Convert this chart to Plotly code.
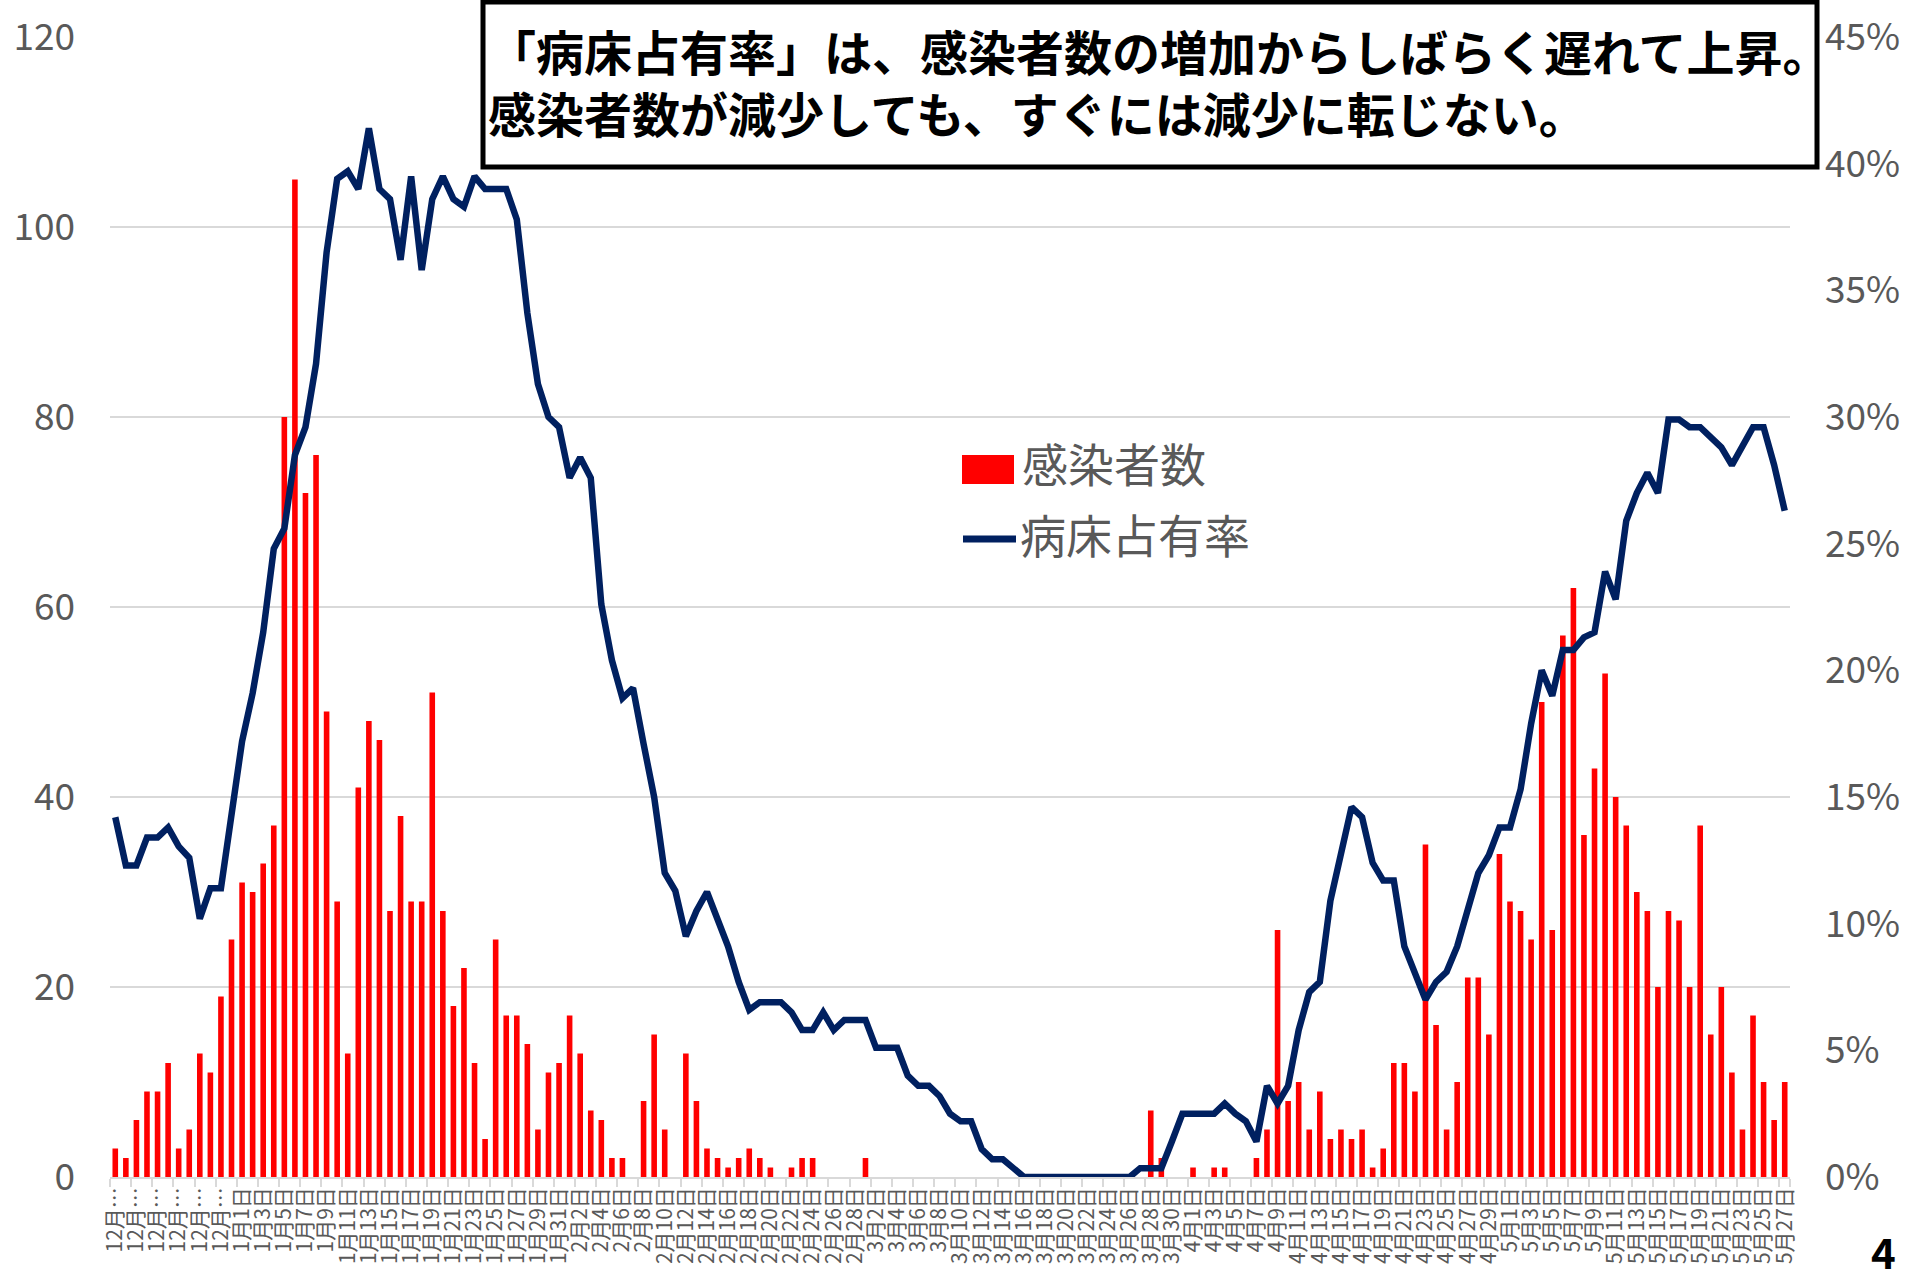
import pandas as pd
import plotly.graph_objects as go

# ---- data -------------------------------------------------------------
dates = pd.date_range("2020-12-20", "2021-05-27", freq="D")
categories = [f"{d.month}月{d.day}日" for d in dates]
tick_vals = categories[::2]
tick_text = [("12月…" if c.startswith("12月") else c) for c in tick_vals]

# 感染者数 (daily new cases)
infected = [
    3, 2, 6, 9, 9, 12, 3, 5, 13, 11, 19, 25,                         # Dec 20-31
    31, 30, 33, 37, 80, 105, 72, 76, 49, 29, 13, 41, 48, 46, 28, 38,  # Jan 1-16
    29, 29, 51, 28, 18, 22, 12, 4, 25, 17, 17, 14, 5, 11, 12,         # Jan 17-31
    17, 13, 7, 6, 2, 2, 0, 8, 15, 5, 0, 13, 8, 3, 2, 1,               # Feb 1-16
    2, 3, 2, 1, 0, 1, 2, 2, 0, 0, 0, 0,                               # Feb 17-28
    2, 0, 0, 0, 0, 0, 0, 0, 0, 0, 0, 0, 0, 0, 0, 0,                   # Mar 1-16
    0, 0, 0, 0, 0, 0, 0, 0, 0, 0, 0, 7, 2, 0, 0,                      # Mar 17-31
    1, 0, 1, 1, 0, 0, 2, 5, 26, 8, 10, 5, 9, 4, 5,                    # Apr 1-15
    4, 5, 1, 3, 12, 12, 9, 35, 16, 5, 10, 21, 21, 15, 34,             # Apr 16-30
    29, 28, 25, 50, 26, 57, 62, 36, 43, 53, 40, 37, 30, 28,           # May 1-14
    20, 28, 27, 20, 37, 15, 20, 11, 5, 17, 10, 6, 10,                 # May 15-27
]

# 病床占有率 (%)
bed_rate = [
    14.2, 12.3, 12.3, 13.4, 13.4, 13.8, 13.05, 12.6, 10.2, 11.4, 11.4, 14.3,
    17.2, 19.1, 21.5, 24.8, 25.6, 28.5, 29.6, 32.1, 36.5, 39.4, 39.7, 39.0,
    41.4, 39.0, 38.6, 36.2, 39.5, 35.8, 38.6, 39.5, 38.6, 38.3, 39.5, 39.0,
    39.0, 39.0, 37.8, 34.1, 31.3, 30.0, 29.6,
    27.6, 28.4, 27.6, 22.6, 20.4, 18.9, 19.3, 17.1, 15.0, 12.0, 11.3, 9.5,
    10.5, 11.25, 10.2, 9.1, 7.7, 6.6, 6.9, 6.9, 6.9, 6.5, 5.8, 5.8, 6.5, 5.8,
    6.2, 6.2,
    6.2, 5.1, 5.1, 5.1, 4.0, 3.6, 3.6, 3.2, 2.5, 2.2, 2.2, 1.1, 0.7, 0.7,
    0.35, 0, 0, 0, 0, 0, 0, 0, 0, 0, 0, 0, 0.35, 0.35, 0.35, 1.4, 2.5,
    2.5, 2.5, 2.5, 2.9, 2.5, 2.2, 1.4, 3.6, 2.9, 3.6, 5.8, 7.3, 7.7, 10.9,
    12.8, 14.6, 14.2, 12.4, 11.7, 11.7, 9.1, 8.1, 7.0, 7.7, 8.1, 9.1, 10.6,
    12.0, 12.7, 13.8,
    13.8, 15.3, 17.9, 20.0, 19.0, 20.8, 20.8, 21.3, 21.5, 23.9, 22.8, 25.9,
    27.0, 27.8, 27.0, 29.9, 29.9, 29.6, 29.6, 29.2, 28.8, 28.1, 28.8, 29.6,
    29.6, 28.1, 26.3,
]

series_names = ["感染者数", "病床占有率"]
title_lines = ["「病床占有率」は、感染者数の増加からしばらく遅れて上昇。",
               "感染者数が減少しても、すぐには減少に転じない。"]
page_no = "4"

# ---- figure -----------------------------------------------------------
FONT = "Noto Sans CJK JP"
GRAY = "#595959"
GRID = "#d9d9d9"
RED = "#FF0000"
NAVY = "#002060"

W, H = 1916, 1281
L, R, T, B = 110, 126, 37, 104
PW, PH = W - L - R, H - T - B


def px(x):  # page pixel -> paper x
    return (x - L) / PW


def py(y):  # page pixel -> paper y
    return (H - B - y) / PH


fig = go.Figure()
fig.add_trace(go.Bar(
    x=categories, y=infected, name=series_names[0],
    marker=dict(color=RED, line=dict(width=0)), showlegend=False,
))
fig.add_trace(go.Scatter(
    x=categories, y=[v / 100 for v in bed_rate], name=series_names[1],
    mode="lines", line=dict(color=NAVY, width=6.5), yaxis="y2", showlegend=False,
))

fig.update_layout(
    width=W, height=H,
    margin=dict(l=L, r=R, t=T, b=B, pad=0),
    paper_bgcolor="white", plot_bgcolor="white",
    font=dict(family=FONT, color=GRAY),
    bargap=0.47,
    xaxis=dict(
        type="category", tickmode="array", tickvals=tick_vals, ticktext=tick_text,
        tickangle=-90, tickson="boundaries", ticks="outside", ticklen=8,
        tickcolor=GRID, tickwidth=1.5, showline=True, linecolor=GRID, linewidth=1.5,
        showgrid=False, tickfont=dict(size=21, color=GRAY, family=FONT),
        automargin=False,
    ),
    yaxis=dict(
        range=[0, 120], tick0=0, dtick=20, showgrid=True, gridcolor=GRID,
        gridwidth=1.5, zeroline=False, showline=False,
        tickfont=dict(size=37, color=GRAY, family=FONT),
        ticklabelstandoff=34, automargin=False,
    ),
    yaxis2=dict(
        overlaying="y", side="right", range=[0, 0.45], tick0=0, dtick=0.05,
        tickformat=".0%", showgrid=False, zeroline=False, showline=False,
        tickfont=dict(size=37, color=GRAY, family=FONT),
        ticklabelstandoff=34, automargin=False,
    ),
    showlegend=False,
)

# legend (drawn as keys + labels)
fig.add_shape(type="rect", xref="paper", yref="paper",
              x0=px(962), x1=px(1014), y0=py(484), y1=py(455),
              line=dict(width=0), fillcolor=RED, layer="above")
fig.add_shape(type="line", xref="paper", yref="paper",
              x0=px(963), x1=px(1016), y0=py(539), y1=py(539),
              line=dict(color=NAVY, width=7), layer="above")
fig.add_annotation(xref="paper", yref="paper", x=px(1020), y=py(462),
                   xanchor="left", yanchor="middle", showarrow=False,
                   text=series_names[0], font=dict(size=46, color=GRAY, family=FONT))
fig.add_annotation(xref="paper", yref="paper", x=px(1018), y=py(533),
                   xanchor="left", yanchor="middle", showarrow=False,
                   text=series_names[1], font=dict(size=46, color=GRAY, family=FONT))

# title box
fig.add_shape(
    type="rect", xref="paper", yref="paper",
    x0=px(483), x1=px(1817), y0=py(167), y1=py(2),
    line=dict(color="black", width=5), fillcolor="white", layer="above",
)
fig.add_annotation(
    xref="paper", yref="paper", x=px(486), y=py(81),
    xanchor="left", yanchor="middle", align="left", showarrow=False,
    text="<b>" + "<br>".join(title_lines) + "</b>",
    font=dict(size=48, color="black", family=FONT),
)
fig.add_annotation(
    xref="paper", yref="paper", x=px(1883), y=py(1250),
    xanchor="center", yanchor="middle", showarrow=False,
    text=f"<b>{page_no}</b>", font=dict(size=42, color="black", family=FONT),
)

fig.write_html("out.html", config={"displayModeBar": False},
               post_script="document.body.style.margin='0px';document.body.style.overflow='hidden';")
